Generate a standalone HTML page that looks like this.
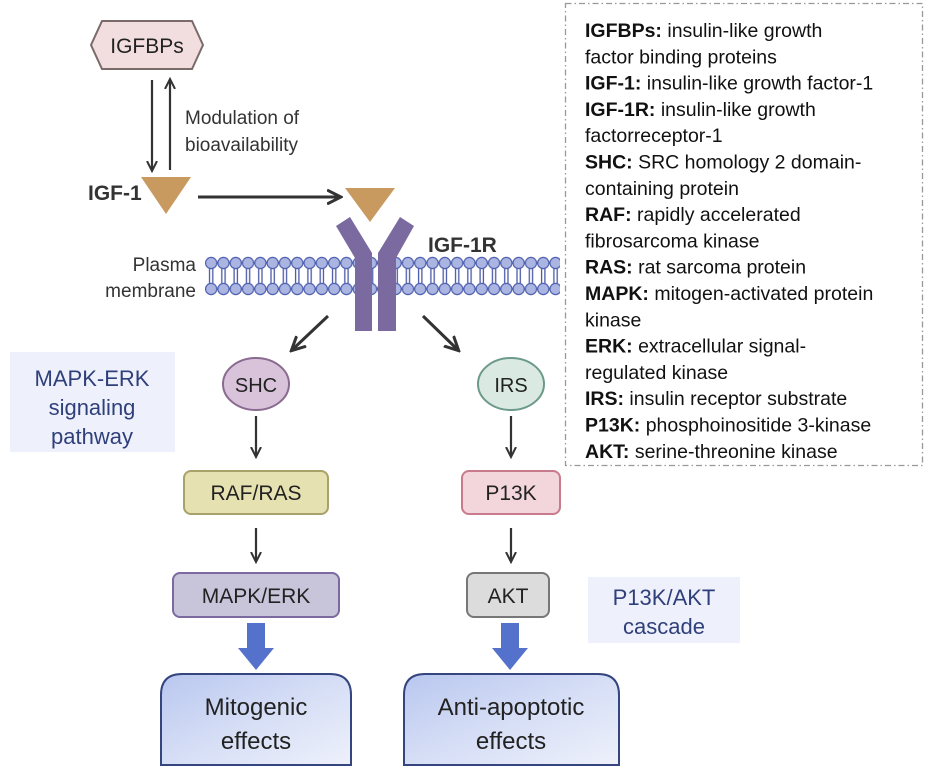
<!DOCTYPE html>
<html><head><meta charset="utf-8"><style>
html,body{margin:0;padding:0;background:#fff;}
svg{display:block;font-family:"Liberation Sans",Arial,sans-serif;}
</style></head><body>
<svg width="931" height="773" viewBox="0 0 931 773" xmlns="http://www.w3.org/2000/svg">
<defs>
<marker id="ah" markerWidth="12" markerHeight="12" refX="9" refY="6" orient="auto" markerUnits="userSpaceOnUse">
<path d="M0,1 L10,6 L0,11" fill="none" stroke="#333" stroke-width="2"/>
</marker>
<marker id="ah2" markerWidth="16" markerHeight="16" refX="13" refY="8" orient="auto" markerUnits="userSpaceOnUse">
<path d="M0,1 L14,8 L0,15" fill="none" stroke="#333" stroke-width="3"/>
</marker>
<linearGradient id="eg" x1="0" y1="0" x2="1" y2="1">
<stop offset="0" stop-color="#b9c7ef"/><stop offset="0.5" stop-color="#d6def6"/><stop offset="1" stop-color="#eef1fb"/>
</linearGradient>
<pattern id="mem" x="205" y="0" width="12.3" height="773" patternUnits="userSpaceOnUse">
<line x1="4.5" y1="268" x2="4.5" y2="284" stroke="#4a5aa8" stroke-width="1.3"/>
<line x1="7.8" y1="268" x2="7.8" y2="284" stroke="#4a5aa8" stroke-width="1.3"/>
<circle cx="6.15" cy="263" r="5.6" fill="#aab5e2" stroke="#5262b0" stroke-width="1.2"/>
<circle cx="6.15" cy="289" r="5.6" fill="#aab5e2" stroke="#5262b0" stroke-width="1.2"/>
</pattern>
</defs>

<rect x="565.5" y="3.5" width="357" height="462" fill="#fff" stroke="#999" stroke-width="1.3" stroke-dasharray="6,3,1.5,3"/>
<g font-size="19.5" fill="#111">
<text x="585" y="37"><tspan font-weight="bold">IGFBPs:</tspan> insulin-like growth</text>
<text x="585" y="63.3">factor binding proteins</text>
<text x="585" y="89.6"><tspan font-weight="bold">IGF-1:</tspan> insulin-like growth factor-1</text>
<text x="585" y="115.9"><tspan font-weight="bold">IGF-1R:</tspan> insulin-like growth</text>
<text x="585" y="142.2">factorreceptor-1</text>
<text x="585" y="168.5"><tspan font-weight="bold">SHC:</tspan> SRC homology 2 domain-</text>
<text x="585" y="194.8">containing protein</text>
<text x="585" y="221.1"><tspan font-weight="bold">RAF:</tspan> rapidly accelerated</text>
<text x="585" y="247.4">fibrosarcoma kinase</text>
<text x="585" y="273.7"><tspan font-weight="bold">RAS:</tspan> rat sarcoma protein</text>
<text x="585" y="300"><tspan font-weight="bold">MAPK:</tspan> mitogen-activated protein</text>
<text x="585" y="326.3">kinase</text>
<text x="585" y="352.6"><tspan font-weight="bold">ERK:</tspan> extracellular signal-</text>
<text x="585" y="378.9">regulated kinase</text>
<text x="585" y="405.2"><tspan font-weight="bold">IRS:</tspan> insulin receptor substrate</text>
<text x="585" y="431.5"><tspan font-weight="bold">P13K:</tspan> phosphoinositide 3-kinase</text>
<text x="585" y="457.8"><tspan font-weight="bold">AKT:</tspan> serine-threonine kinase</text>
</g>

<polygon points="102,21 192,21 203,45 192,69 102,69 91,45" fill="#f2dede" stroke="#7a6a6a" stroke-width="2"/>
<text x="147" y="53" font-size="21" text-anchor="middle" fill="#222">IGFBPs</text>
<line x1="152" y1="80" x2="152" y2="170" stroke="#333" stroke-width="2.2" marker-end="url(#ah)"/>
<line x1="170" y1="170" x2="170" y2="80" stroke="#333" stroke-width="2.2" marker-end="url(#ah)"/>
<text x="185" y="124" font-size="19" fill="#333">Modulation of</text>
<text x="185" y="151" font-size="19" fill="#333">bioavailability</text>

<text x="88" y="200" font-size="21" font-weight="bold" fill="#333">IGF-1</text>
<polygon points="141,177 191,177 166,214" fill="#c99a60"/>
<line x1="198" y1="197" x2="340" y2="197" stroke="#333" stroke-width="3" marker-end="url(#ah2)"/>
<polygon points="345,188 395,188 370,222" fill="#c99a60"/>

<rect x="205" y="255" width="355" height="42" fill="url(#mem)"/>
<text x="196" y="271" font-size="19" text-anchor="end" fill="#333">Plasma</text>
<text x="196" y="297" font-size="19" text-anchor="end" fill="#333">membrane</text>

<g fill="#7b6aa0">
<polygon points="336,226 350,217 372,253 372,331 355,331 355,258"/>
<polygon points="414,226 400,217 378,253 378,331 396,331 396,258"/>
</g>
<text x="428" y="252" font-size="21" font-weight="bold" fill="#333">IGF-1R</text>

<line x1="328" y1="316" x2="292" y2="350" stroke="#333" stroke-width="3" marker-end="url(#ah2)"/>
<line x1="423" y1="316" x2="458" y2="350" stroke="#333" stroke-width="3" marker-end="url(#ah2)"/>

<rect x="10" y="352" width="165" height="100" fill="#eef1fb"/>
<g font-size="22" fill="#2f3f7a" text-anchor="middle">
<text x="92" y="386">MAPK-ERK</text>
<text x="92" y="415">signaling</text>
<text x="92" y="444">pathway</text>
</g>

<ellipse cx="256" cy="384" rx="33" ry="26" fill="#d8c3da" stroke="#8a6a90" stroke-width="2"/>
<text x="256" y="392" font-size="20" text-anchor="middle" fill="#222">SHC</text>
<line x1="256" y1="416" x2="256" y2="456" stroke="#333" stroke-width="2.2" marker-end="url(#ah)"/>
<rect x="184" y="471" width="144" height="43" rx="7" fill="#e6e1b1" stroke="#a8a16a" stroke-width="2"/>
<text x="256" y="500" font-size="21" text-anchor="middle" fill="#222">RAF/RAS</text>
<line x1="256" y1="528" x2="256" y2="561" stroke="#333" stroke-width="2.2" marker-end="url(#ah)"/>
<rect x="173" y="573" width="166" height="44" rx="7" fill="#c8c5db" stroke="#7b6aa0" stroke-width="2"/>
<text x="256" y="603" font-size="21" text-anchor="middle" fill="#222">MAPK/ERK</text>
<polygon points="247,623 265,623 265,648 274,648 256,670 238,648 247,648" fill="#5472cc"/>
<path d="M161,765 L161,695 Q161,674 182,674 L330,674 Q351,674 351,695 L351,765 Z" fill="url(#eg)" stroke="#34457f" stroke-width="2"/>
<text x="256" y="715" font-size="24" text-anchor="middle" fill="#222">Mitogenic</text>
<text x="256" y="749" font-size="24" text-anchor="middle" fill="#222">effects</text>

<ellipse cx="511" cy="384" rx="33" ry="26" fill="#dbe9e3" stroke="#6c9a8a" stroke-width="2"/>
<text x="511" y="392" font-size="20" text-anchor="middle" fill="#222">IRS</text>
<line x1="511" y1="416" x2="511" y2="456" stroke="#333" stroke-width="2.2" marker-end="url(#ah)"/>
<rect x="462" y="471" width="98" height="43" rx="7" fill="#f3d6dc" stroke="#c97b8d" stroke-width="2"/>
<text x="511" y="500" font-size="21" text-anchor="middle" fill="#222">P13K</text>
<line x1="511" y1="528" x2="511" y2="561" stroke="#333" stroke-width="2.2" marker-end="url(#ah)"/>
<rect x="467" y="573" width="82" height="44" rx="7" fill="#dcdcdc" stroke="#777" stroke-width="2"/>
<text x="508" y="603" font-size="21" text-anchor="middle" fill="#222">AKT</text>
<polygon points="501,623 519,623 519,648 528,648 510,670 492,648 501,648" fill="#5472cc"/>
<path d="M404,765 L404,695 Q404,674 425,674 L598,674 Q619,674 619,695 L619,765 Z" fill="url(#eg)" stroke="#34457f" stroke-width="2"/>
<text x="511" y="715" font-size="24" text-anchor="middle" fill="#222">Anti-apoptotic</text>
<text x="511" y="749" font-size="24" text-anchor="middle" fill="#222">effects</text>

<rect x="588" y="577" width="152" height="66" fill="#eef1fb"/>
<text x="664" y="605" font-size="22" text-anchor="middle" fill="#2f3f7a">P13K/AKT</text>
<text x="664" y="634" font-size="22" text-anchor="middle" fill="#2f3f7a">cascade</text>
</svg>
</body></html>
